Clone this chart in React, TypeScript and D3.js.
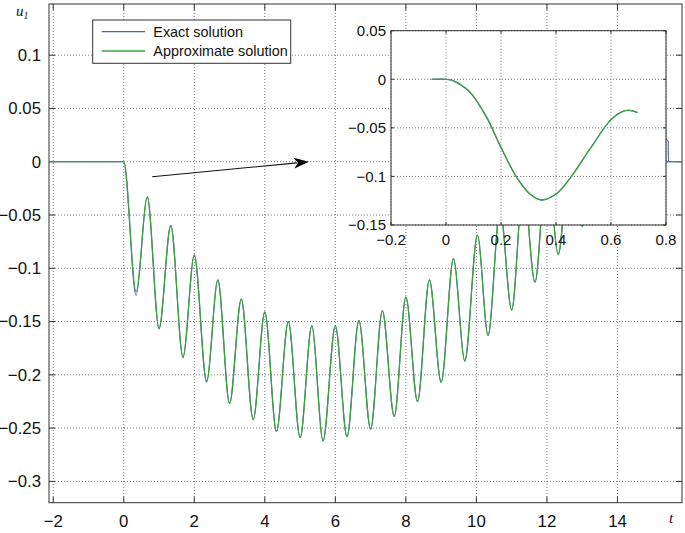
import React, { useEffect, useRef } from "react";
import * as d3 from "d3";

// main curve at its peaks and troughs
const mainT = [-2.12, 0, 0.35, 0.667, 1.0, 1.333, 1.68, 2.0, 2.35, 2.667, 3.0, 3.333, 3.67, 4.0, 4.33, 4.667, 5.0, 5.333, 5.65, 6.0, 6.33, 6.667, 7.0, 7.333, 7.67, 8.0, 8.33, 8.667, 9.0, 9.35, 9.67, 10.03, 10.33, 10.67, 11.0, 11.33, 11.66, 12.0, 12.32, 12.67, 13.0, 13.33, 13.67, 14.0, 14.33, 14.67, 15.0, 15.33, 15.36, 15.365, 15.44, 15.445, 15.83];
const approxU = [0, 0, -0.122, -0.033, -0.156, -0.06, -0.183, -0.0875, -0.206, -0.111, -0.227, -0.129, -0.242, -0.141, -0.253, -0.15, -0.259, -0.154, -0.262, -0.154, -0.258, -0.149, -0.251, -0.14, -0.239, -0.127, -0.225, -0.111, -0.207, -0.091, -0.187, -0.069, -0.163, -0.045, -0.139, -0.021, -0.113, 0.002, -0.087, 0.02, -0.061, 0.035, -0.045, 0.045, -0.038, 0.05, -0.035, 0.05, 0.047, 0, 0, 0, 0];
const exactU = [0, 0, -0.1255, -0.033, -0.157, -0.06, -0.184, -0.0875, -0.207, -0.111, -0.227, -0.129, -0.242, -0.141, -0.253, -0.15, -0.259, -0.154, -0.262, -0.154, -0.258, -0.149, -0.251, -0.14, -0.239, -0.127, -0.225, -0.111, -0.207, -0.091, -0.187, -0.069, -0.163, -0.045, -0.139, -0.021, -0.113, 0.002, -0.087, 0.02, -0.061, 0.035, -0.045, 0.045, -0.038, 0.05, -0.035, 0.05, 0.047, 0.022, 0.019, 0, 0];

// zoomed window
const insetT = [-0.052, 0, 0.02, 0.039, 0.087, 0.148, 0.2, 0.257, 0.305, 0.348, 0.403, 0.451, 0.524, 0.6, 0.645, 0.667, 0.697];
const insetApprox = [0, 0, -0.0005, -0.003, -0.013, -0.039, -0.07, -0.101, -0.118, -0.124, -0.1175, -0.102, -0.0715, -0.0415, -0.0328, -0.032, -0.0342];
const insetExact = [0, 0, -0.001, -0.0035, -0.0135, -0.0395, -0.0705, -0.101, -0.118, -0.1245, -0.1175, -0.102, -0.0715, -0.0415, -0.0328, -0.032, -0.0342];

const mainXTicks = [-2, 0, 2, 4, 6, 8, 10, 12, 14];
const mainYTicks = [0.1, 0.05, 0, -0.05, -0.1, -0.15, -0.2, -0.25, -0.3];
const insetXTicks = [-0.2, 0, 0.2, 0.4, 0.6, 0.8];
const insetYTicks = [0.05, 0, -0.05, -0.1, -0.15];
const legendLabels = ["Exact solution", "Approximate solution"];
const arrowFrom = [0.805, -0.0141];
const arrowTo = [5.25, 0];

const BLUE = "#4a5cc8";
const GREEN = "#3ca33c";
const FONT = "'Liberation Sans', Arial, Helvetica, sans-serif";

const fmt = (v: number) => String(v).replace("-", "\u2212");

function drawFrame(g: any, x: any, y: any, xt: number[], yt: number[], o: any) {
  const [x0, x1] = x.range();
  const [y0, y1] = y.range(); // y0 bottom
  // dotted grid
  g.selectAll(".gx").data(xt).join("line").attr("class", "gx")
    .attr("x1", (d) => x(d)).attr("x2", (d) => x(d)).attr("y1", y1).attr("y2", y0)
    .attr("stroke", "#7a7a7a").attr("stroke-dasharray", "1,2").attr("stroke-width", 1);
  g.selectAll(".gy").data(yt).join("line").attr("class", "gy")
    .attr("x1", x0).attr("x2", x1).attr("y1", (d) => y(d)).attr("y2", (d) => y(d))
    .attr("stroke", "#7a7a7a").attr("stroke-dasharray", "1,2").attr("stroke-width", 1);
  // inward ticks on all four sides
  const tl = o.tick;
  g.selectAll(".tb").data(xt).join("line").attr("class", "tb")
    .attr("x1", (d) => x(d)).attr("x2", (d) => x(d)).attr("y1", y0).attr("y2", y0 - tl).attr("stroke", "#333");
  g.selectAll(".tt").data(xt).join("line").attr("class", "tt")
    .attr("x1", (d) => x(d)).attr("x2", (d) => x(d)).attr("y1", y1).attr("y2", y1 + tl).attr("stroke", "#333");
  g.selectAll(".tlft").data(yt).join("line").attr("class", "tlft")
    .attr("x1", x0).attr("x2", x0 + tl).attr("y1", (d) => y(d)).attr("y2", (d) => y(d)).attr("stroke", "#333");
  g.selectAll(".trt").data(yt).join("line").attr("class", "trt")
    .attr("x1", x1).attr("x2", x1 - tl).attr("y1", (d) => y(d)).attr("y2", (d) => y(d)).attr("stroke", "#333");
  // labels
  g.selectAll(".lx").data(xt).join("text").attr("class", "lx")
    .attr("x", (d) => x(d)).attr("y", y0 + o.xOff).attr("text-anchor", "middle")
    .attr("font-family", FONT).attr("font-size", o.font).attr("fill", "#111").text((d) => fmt(d));
  g.selectAll(".ly").data(yt).join("text").attr("class", "ly")
    .attr("x", x0 - o.yGap).attr("y", (d) => y(d) + o.font * 0.35).attr("text-anchor", "end")
    .attr("font-family", FONT).attr("font-size", o.font).attr("fill", "#111").text((d) => fmt(d));
}

export default function App() {
  const ref = useRef<SVGSVGElement>(null);

  useEffect(() => {
    const svg = d3.select(ref.current);
    svg.selectAll("*").remove();

    const x = d3.scaleLinear().domain([-2.12, 15.83]).range([49, 682]);
    const y = d3.scaleLinear().domain([-0.32, 0.148]).range([502.7, 4]);

    const main = svg.append("g");
    main.append("rect").attr("x", 49).attr("y", 4).attr("width", 633).attr("height", 498.7).attr("fill", "white");
    drawFrame(main, x, y, mainXTicks, mainYTicks, { tick: 6, font: 16.8, xOff: 24, yGap: 8 });

    const line = d3.line<number>().x((d, i) => x(mainT[i])).y((d) => y(d)).curve(d3.curveMonotoneX);
    main.append("path").attr("d", line(exactU)).attr("fill", "none").attr("stroke", BLUE).attr("stroke-width", 1.1);
    main.append("path").attr("d", line(approxU)).attr("fill", "none").attr("stroke", GREEN).attr("stroke-width", 1.3);

    main.append("rect").attr("x", 49).attr("y", 4).attr("width", 633).attr("height", 498.7)
      .attr("fill", "none").attr("stroke", "#333").attr("stroke-width", 1);

    // arrow pointing to the zoom window
    const ax0 = x(arrowFrom[0]), ay0 = y(arrowFrom[1]), ax1 = x(arrowTo[0]), ay1 = y(arrowTo[1]);
    const ang = Math.atan2(ay1 - ay0, ax1 - ax0);
    const hl = 15, hw = 5.5;
    const bx = ax1 - hl * Math.cos(ang), by = ay1 - hl * Math.sin(ang);
    main.append("line").attr("x1", ax0).attr("y1", ay0).attr("x2", bx + 3 * Math.cos(ang)).attr("y2", by + 3 * Math.sin(ang))
      .attr("stroke", "#111").attr("stroke-width", 1.1);
    const nx = -Math.sin(ang), ny = Math.cos(ang);
    const notch = 4;
    main.append("path")
      .attr("d", `M${ax1},${ay1} L${bx + nx * hw},${by + ny * hw} L${bx + notch * Math.cos(ang)},${by + notch * Math.sin(ang)} L${bx - nx * hw},${by - ny * hw} Z`)
      .attr("fill", "#000");

    // legend
    const leg = svg.append("g");
    leg.append("rect").attr("x", 92.7).attr("y", 20).attr("width", 198).attr("height", 43.3)
      .attr("fill", "white").attr("stroke", "#333").attr("stroke-width", 1);
    const legY = d3.scalePoint().domain(legendLabels).range([31.7, 51]);
    leg.selectAll(".ll").data(legendLabels).join("line").attr("class", "ll")
      .attr("x1", 101.7).attr("x2", 145).attr("y1", (d) => legY(d)).attr("y2", (d) => legY(d))
      .attr("stroke", (d, i) => (i === 0 ? BLUE : GREEN)).attr("stroke-width", 1.3);
    leg.selectAll(".lt").data(legendLabels).join("text").attr("class", "lt")
      .attr("x", 153.3).attr("y", (d) => legY(d) + 5.3)
      .attr("font-family", FONT).attr("font-size", 14.4).attr("fill", "#111").text((d) => d);

    // axis labels
    const ul = svg.append("text").attr("x", 16).attr("y", 15.5)
      .attr("font-family", "'Liberation Serif', 'Times New Roman', serif").attr("font-style", "italic")
      .attr("font-size", 15).attr("fill", "#111");
    ul.append("tspan").text("u");
    ul.append("tspan").attr("font-size", 10).attr("dy", 3).text("1");
    svg.append("text").attr("x", 669).attr("y", 523)
      .attr("font-family", "'Liberation Serif', 'Times New Roman', serif").attr("font-style", "italic")
      .attr("font-size", 15).attr("fill", "#111").text("t");

    // inset
    const ix = d3.scaleLinear().domain([-0.2, 0.8]).range([391, 666]);
    const iy = d3.scaleLinear().domain([-0.15, 0.05]).range([225, 30.7]);
    const ins = svg.append("g");
    ins.append("rect").attr("x", 391).attr("y", 30.7).attr("width", 275).attr("height", 194.3).attr("fill", "white");
    drawFrame(ins, ix, iy, insetXTicks, insetYTicks, { tick: 3, font: 15, xOff: 20, yGap: 5 });
    const iline = d3.line<number>().x((d, i) => ix(insetT[i])).y((d) => iy(d)).curve(d3.curveCatmullRom.alpha(0.5));
    ins.append("path").attr("d", iline(insetExact)).attr("fill", "none").attr("stroke", BLUE).attr("stroke-width", 1.1);
    ins.append("path").attr("d", iline(insetApprox)).attr("fill", "none").attr("stroke", GREEN).attr("stroke-width", 1.3);
    ins.append("rect").attr("x", 391).attr("y", 30.7).attr("width", 275).attr("height", 194.3)
      .attr("fill", "none").attr("stroke", "#333").attr("stroke-width", 1);
  }, []);

  return (
    <svg ref={ref} width={685} height={533} style={{ position: "absolute", left: 0, top: 0, background: "white" }} />
  );
}
